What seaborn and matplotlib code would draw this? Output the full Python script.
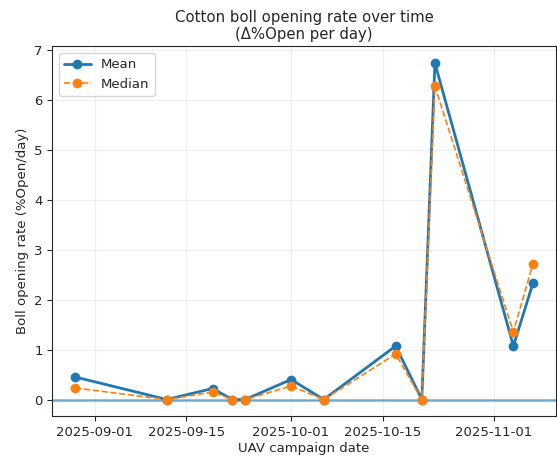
import pandas as pd
import seaborn as sns
import matplotlib
matplotlib.use("Agg")
import matplotlib.pyplot as plt
import matplotlib.dates as mdates

# campaign dates and opening rates
dates = ["2025-08-29", "2025-09-12", "2025-09-19", "2025-09-22", "2025-09-24",
         "2025-10-01", "2025-10-06", "2025-10-17", "2025-10-21", "2025-10-23",
         "2025-11-04", "2025-11-07"]
mean_rate = [0.45, 0.0, 0.22, 0.0, 0.0, 0.40, 0.0, 1.07, 0.0, 6.73, 1.07, 2.33]
median_rate = [0.23, 0.0, 0.15, 0.0, 0.0, 0.27, 0.0, 0.91, 0.0, 6.27, 1.35, 2.72]

df = pd.DataFrame({"date": pd.to_datetime(dates),
                   "mean": mean_rate,
                   "median": median_rate})

sns.set_style("ticks")
plt.rcParams["font.family"] = ["DejaVu Sans"]
plt.rcParams["font.size"] = 9.5

fig = plt.figure(figsize=(5.57, 4.58), dpi=100)
ax = fig.add_axes([0.094, 0.091, 0.904, 0.808])

sns.lineplot(data=df, x="date", y="mean", marker="o", markersize=7,
             linewidth=2, color="C0", markeredgewidth=0, label="Mean", ax=ax)
sns.lineplot(data=df, x="date", y="median", marker="o", markersize=7,
             linewidth=1.2, linestyle="--", color="C1", markeredgewidth=0,
             label="Median", ax=ax)
ax.axhline(0, color="C0", linewidth=1.8, alpha=0.6, zorder=1)

ax.xaxis.set_major_locator(mdates.DayLocator(bymonthday=[1, 15]))
ax.xaxis.set_major_formatter(mdates.DateFormatter("%Y-%m-%d"))
ax.tick_params(labelsize=9.5)
ax.grid(True, alpha=0.3)
ax.set_title("Cotton boll opening rate over time\n(Δ%Open per day)",
             fontsize=10.7, pad=5)
ax.set_xlabel("UAV campaign date", labelpad=2)
ax.set_ylabel("Boll opening rate (%Open/day)")
ax.legend(loc="upper left", fontsize=9.5)

fig.savefig("out.png", dpi=100)
